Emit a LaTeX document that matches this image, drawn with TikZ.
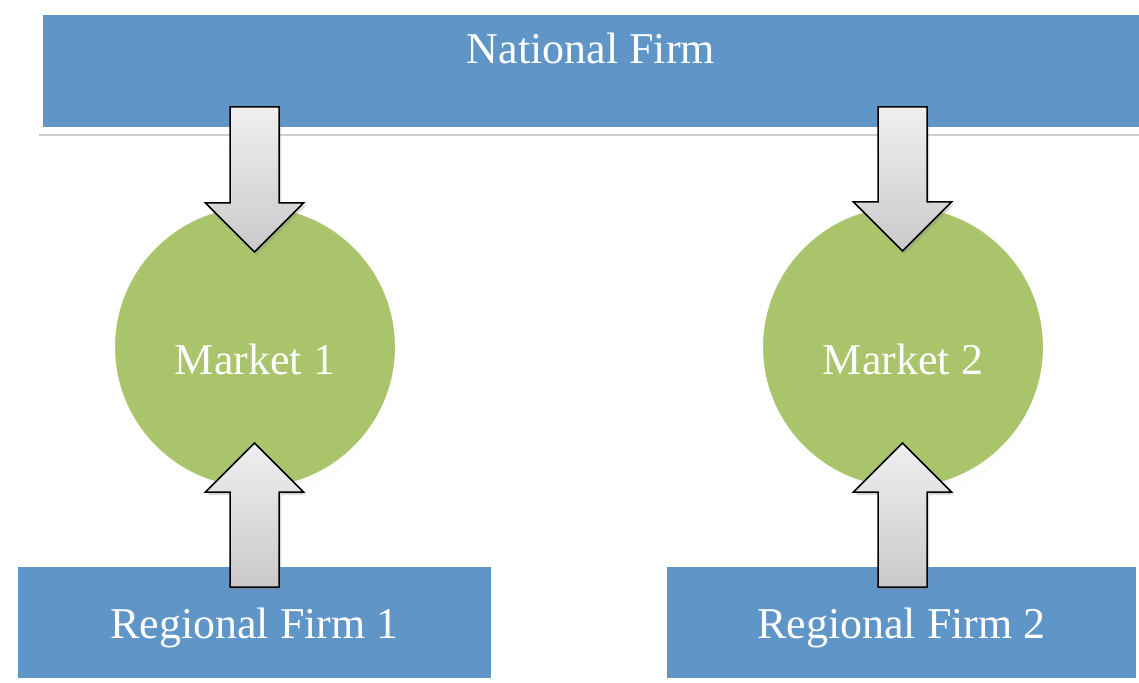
\documentclass[tikz,border=0pt]{standalone}
\usepackage{fontspec}
\setmainfont{Liberation Serif}
\usetikzlibrary{calc,shadows}

\definecolor{firmblue}{RGB}{96,149,200}
\definecolor{marketgreen}{RGB}{170,196,108}

\begin{document}
\begin{tikzpicture}[x=0.5pt,y=-0.5pt]
\tikzset{
  firmbox/.style={rectangle,fill=firmblue,draw=white,line width=3.75pt,inner sep=0pt,
    minimum height=59.5pt,text=white,font=\fontsize{22}{26}\selectfont,
    drop shadow={shadow scale=1.006,shadow xshift=0pt,shadow yshift=0pt,opacity=0.12},
    drop shadow={shadow xshift=0pt,shadow yshift=-2.5pt,opacity=0.4}},
  marketnode/.style={circle,fill=marketgreen,draw=white,line width=3.5pt,inner sep=0pt,
    minimum size=143.5pt,text=white,font=\fontsize{22}{26}\selectfont,
    text height=28.5pt,text depth=0.5pt,
    drop shadow={shadow scale=1.01,shadow xshift=0pt,shadow yshift=0pt,opacity=0.12},
    drop shadow={shadow xshift=1pt,shadow yshift=-1.5pt,opacity=0.3}},
  blockarrow/.style={draw=black,line width=0.75pt,top color=gray!12,bottom color=gray!42,
    drop shadow={shadow xshift=1pt,shadow yshift=-1.5pt,opacity=0.3},
    to path={
      ($(\tikztostart)!12.25pt!90:(\tikztotarget)$)
      -- ($(\tikztotarget)!24.5pt!(\tikztostart)!12.25pt!90:(\tikztotarget)$)
      -- ($(\tikztotarget)!24.5pt!(\tikztostart)!24.5pt!90:(\tikztotarget)$)
      -- (\tikztotarget)
      -- ($(\tikztotarget)!24.5pt!(\tikztostart)!24.5pt!-90:(\tikztotarget)$)
      -- ($(\tikztotarget)!24.5pt!(\tikztostart)!12.25pt!-90:(\tikztotarget)$)
      -- ($(\tikztostart)!12.25pt!-90:(\tikztotarget)$)
      -- cycle}}
}
\useasboundingbox (0,0) rectangle (1139,683);
\fill[white] (0,0) rectangle (1139,683);
\clip (0,0) rectangle (1139,683);

% firms
\node[firmbox,minimum width=552pt,text height=15pt,text depth=22.25pt] (n_nat) at (591,71.25) {National Firm};
\node[firmbox,minimum width=240.5pt,text height=16pt,text depth=0.5pt] (n_reg1) at (254.5,622.5) {Regional Firm 1};
\node[firmbox,minimum width=238.5pt,text height=16pt,text depth=0.5pt] (n_reg2) at (901.5,622.5) {Regional Firm 2};

% markets
\node[marketnode] (n_mkt1) at (255,347) {Market 1};
\node[marketnode] (n_mkt2) at (903,347) {Market 2};

% arrow ends
\coordinate (c_nat1) at (254.5,107);
\coordinate (c_top1) at (254.5,252);
\coordinate (c_reg1) at (254.5,587);
\coordinate (c_bot1) at (254.5,443);
\coordinate (c_nat2) at (902.5,107);
\coordinate (c_top2) at (902.5,251);
\coordinate (c_reg2) at (902.5,587);
\coordinate (c_bot2) at (902.5,443);

\draw[blockarrow] (c_nat1) to (c_top1);
\draw[blockarrow] (c_reg1) to (c_bot1);
\draw[blockarrow] (c_nat2) to (c_top2);
\draw[blockarrow] (c_reg2) to (c_bot2);
\end{tikzpicture}
\end{document}
